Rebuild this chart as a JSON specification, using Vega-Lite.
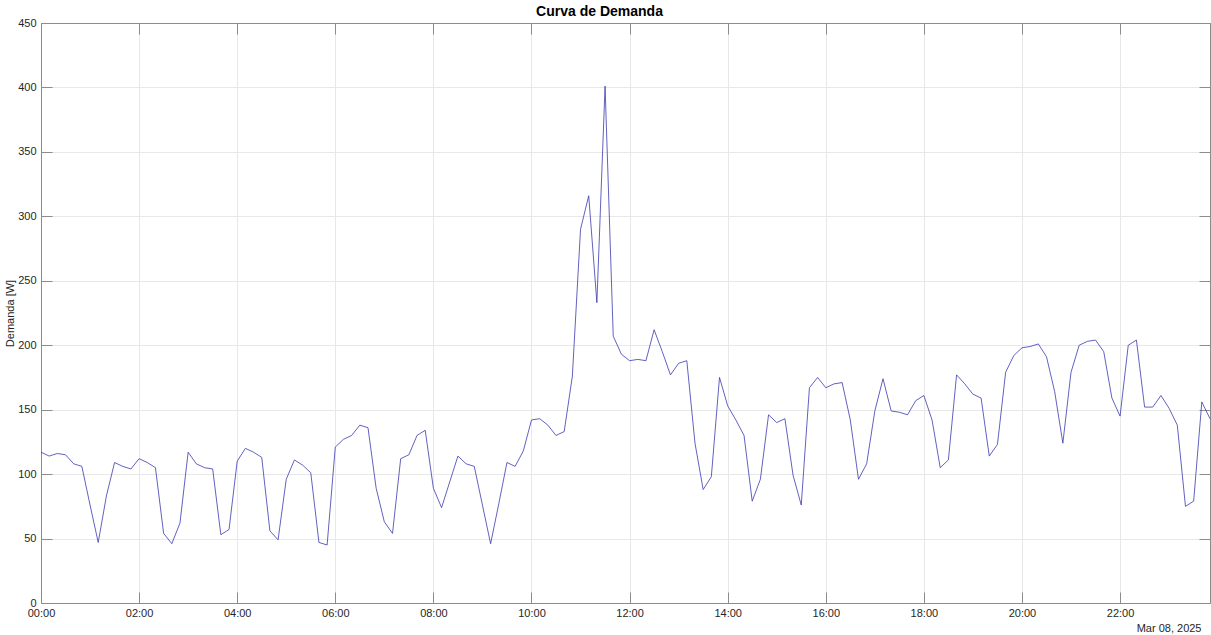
{
  "$schema": "https://vega.github.io/schema/vega-lite/v6.json",
  "width": 1169,
  "height": 580,
  "autosize": "none",
  "padding": {"left": 41, "top": 23, "right": 1, "bottom": 32},
  "background": "white",
  "config": {
    "view": {"stroke": null},
    "axis": {"labelFont": "Liberation Sans", "labelFontSize": 11, "labelColor": "#262626", "titleFont": "Liberation Sans", "titleFontSize": 11, "titleFontWeight": "normal", "titleColor": "#262626", "domainColor": "#8c8c8c", "tickColor": "#8c8c8c", "gridColor": "#e8e8e8", "gridWidth": 1, "domainWidth": 1, "tickWidth": 1}
  },
  "data": {"values": [
    {"t":"00:00","w":117},{"t":"00:10","w":114},{"t":"00:20","w":116},{"t":"00:30","w":115},{"t":"00:40","w":108},{"t":"00:50","w":106},
    {"t":"01:00","w":76},{"t":"01:10","w":47},{"t":"01:20","w":83},{"t":"01:30","w":109},{"t":"01:40","w":106},{"t":"01:50","w":104},
    {"t":"02:00","w":112},{"t":"02:10","w":109},{"t":"02:20","w":105},{"t":"02:30","w":54},{"t":"02:40","w":46},{"t":"02:50","w":62},
    {"t":"03:00","w":117},{"t":"03:10","w":108},{"t":"03:20","w":105},{"t":"03:30","w":104},{"t":"03:40","w":53},{"t":"03:50","w":57},
    {"t":"04:00","w":110},{"t":"04:10","w":120},{"t":"04:20","w":117},{"t":"04:30","w":113},{"t":"04:40","w":56},{"t":"04:50","w":49},
    {"t":"05:00","w":96},{"t":"05:10","w":111},{"t":"05:20","w":107},{"t":"05:30","w":101},{"t":"05:40","w":47},{"t":"05:50","w":45},
    {"t":"06:00","w":121},{"t":"06:10","w":127},{"t":"06:20","w":130},{"t":"06:30","w":138},{"t":"06:40","w":136},{"t":"06:50","w":89},
    {"t":"07:00","w":63},{"t":"07:10","w":54},{"t":"07:20","w":112},{"t":"07:30","w":115},{"t":"07:40","w":130},{"t":"07:50","w":134},
    {"t":"08:00","w":89},{"t":"08:10","w":74},{"t":"08:20","w":94},{"t":"08:30","w":114},{"t":"08:40","w":108},{"t":"08:50","w":106},
    {"t":"09:00","w":76},{"t":"09:10","w":46},{"t":"09:20","w":77},{"t":"09:30","w":109},{"t":"09:40","w":106},{"t":"09:50","w":118},
    {"t":"10:00","w":142},{"t":"10:10","w":143},{"t":"10:20","w":138},{"t":"10:30","w":130},{"t":"10:40","w":133},{"t":"10:50","w":176},
    {"t":"11:00","w":290},{"t":"11:10","w":316},{"t":"11:20","w":233},{"t":"11:30","w":401},{"t":"11:40","w":207},{"t":"11:50","w":193},
    {"t":"12:00","w":188},{"t":"12:10","w":189},{"t":"12:20","w":188},{"t":"12:30","w":212},{"t":"12:40","w":195},{"t":"12:50","w":177},
    {"t":"13:00","w":186},{"t":"13:10","w":188},{"t":"13:20","w":124},{"t":"13:30","w":88},{"t":"13:40","w":98},{"t":"13:50","w":175},
    {"t":"14:00","w":153},{"t":"14:10","w":142},{"t":"14:20","w":130},{"t":"14:30","w":79},{"t":"14:40","w":96},{"t":"14:50","w":146},
    {"t":"15:00","w":140},{"t":"15:10","w":143},{"t":"15:20","w":99},{"t":"15:30","w":76},{"t":"15:40","w":167},{"t":"15:50","w":175},
    {"t":"16:00","w":167},{"t":"16:10","w":170},{"t":"16:20","w":171},{"t":"16:30","w":142},{"t":"16:40","w":96},{"t":"16:50","w":108},
    {"t":"17:00","w":149},{"t":"17:10","w":174},{"t":"17:20","w":149},{"t":"17:30","w":148},{"t":"17:40","w":146},{"t":"17:50","w":157},
    {"t":"18:00","w":161},{"t":"18:10","w":142},{"t":"18:20","w":105},{"t":"18:30","w":111},{"t":"18:40","w":177},{"t":"18:50","w":170},
    {"t":"19:00","w":162},{"t":"19:10","w":159},{"t":"19:20","w":114},{"t":"19:30","w":123},{"t":"19:40","w":179},{"t":"19:50","w":192},
    {"t":"20:00","w":198},{"t":"20:10","w":199},{"t":"20:20","w":201},{"t":"20:30","w":191},{"t":"20:40","w":164},{"t":"20:50","w":124},
    {"t":"21:00","w":179},{"t":"21:10","w":200},{"t":"21:20","w":203},{"t":"21:30","w":204},{"t":"21:40","w":195},{"t":"21:50","w":159},
    {"t":"22:00","w":145},{"t":"22:10","w":200},{"t":"22:20","w":204},{"t":"22:30","w":152},{"t":"22:40","w":152},{"t":"22:50","w":161},
    {"t":"23:00","w":151},{"t":"23:10","w":138},{"t":"23:20","w":75},{"t":"23:30","w":79},{"t":"23:40","w":156},{"t":"23:50","w":143}
  ]},
  "layer": [
    {
      "mark": {"type": "line", "color": "#3a3ab0", "strokeWidth": 0.8},
      "encoding": {
        "x": {"field": "t", "type": "ordinal", "sort": null,
          "scale": {"type": "point", "padding": 0},
          "axis": {"orient": "bottom", "grid": true, "values": ["00:00","02:00","04:00","06:00","08:00","10:00","12:00","14:00","16:00","18:00","20:00","22:00"], "labelAngle": 0, "tickSize": -11, "labelPadding": 15, "labelFlush": false, "labelOverlap": false,
            "title": "Mar 08, 2025", "titleX": 1160, "titleY": 25, "titleAlign": "right", "titleBaseline": "middle"}},
        "y": {"field": "w", "type": "quantitative",
          "scale": {"domain": [0, 450], "nice": false},
          "axis": {"orient": "left", "grid": true, "values": [0, 50, 100, 150, 200, 250, 300, 350, 400, 450], "tickSize": -11, "labelPadding": 16,
            "title": "Demanda [W]", "titleX": -31, "titleY": 290, "titleAlign": "center", "titleBaseline": "middle", "titleAngle": 270}}
      }
    },
    {
      "mark": {"type": "line", "opacity": 0},
      "encoding": {
        "x": {"field": "t", "type": "ordinal", "sort": null,
          "axis": {"orient": "top", "grid": false, "labels": false, "values": ["00:00","02:00","04:00","06:00","08:00","10:00","12:00","14:00","16:00","18:00","20:00","22:00"], "tickSize": -11,
            "title": "Curva de Demanda", "titleFont": "Liberation Sans", "titleFontSize": 14, "titleFontWeight": "bold", "titleColor": "#000000", "titleX": 558, "titleY": -8, "titleAlign": "center", "titleBaseline": "alphabetic"}},
        "y": {"field": "w", "type": "quantitative",
          "axis": {"orient": "right", "grid": false, "labels": false, "title": null, "values": [0, 50, 100, 150, 200, 250, 300, 350, 400, 450], "tickSize": -11}}
      }
    }
  ],
  "resolve": {"axis": {"x": "independent", "y": "independent"}}
}
